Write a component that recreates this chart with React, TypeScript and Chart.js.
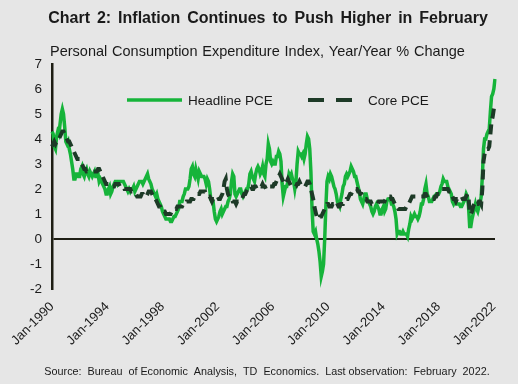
import React, { useEffect, useRef } from "react";
import { Chart, registerables } from "chart.js";

Chart.register(...registerables);

const START_YEAR = 1990;
const MONTHS = ["Jan", "Feb", "Mar", "Apr", "May", "Jun", "Jul", "Aug", "Sep", "Oct", "Nov", "Dec"];
const TICK_LABELS = ["Jan-1990", "Jan-1994", "Jan-1998", "Jan-2002", "Jan-2006", "Jan-2010", "Jan-2014", "Jan-2018", "Jan-2022"];

// Headline PCE, y/y % change, monthly Jan-1990 .. Feb-2022
const HEADLINE_1990S = [
  4.3, 4.2, 3.7, 3.6, 4.1, 4.3, 4.2, 4.6, 5.0, 5.2, 5.0, 4.5,
  3.9, 3.8, 3.9, 3.6, 3.4, 3.1, 2.8, 2.4, 2.4, 2.6, 2.6, 2.5,
  2.5, 2.8, 2.9, 2.6, 2.5, 2.7, 2.8, 2.6, 2.5, 2.7, 2.6, 2.5,
  2.6, 2.7, 2.5, 2.5, 2.6, 2.3, 2.4, 2.3, 2.2, 2.1, 2.0, 1.8,
  1.8, 2.0, 2.1, 1.8, 1.9, 2.1, 2.2, 2.3, 2.3, 2.2, 2.3, 2.3,
  2.3, 2.3, 2.3, 2.2, 2.1, 2.0, 1.9, 2.0, 1.9, 2.0, 2.0, 2.1,
  1.9, 2.0, 2.1, 2.2, 2.3, 2.3, 2.3, 2.2, 2.3, 2.4, 2.5, 2.6,
  2.4, 2.3, 2.2, 2.0, 1.9, 1.8, 1.7, 1.8, 1.6, 1.5, 1.4, 1.3,
  1.1, 1.0, 0.9, 0.8, 0.8, 0.8, 0.8, 0.7, 0.7, 0.8, 0.9, 0.9,
  1.0, 1.1, 1.2, 1.5, 1.5, 1.5, 1.7, 1.8, 2.0, 2.0, 2.0, 2.1,
];
const HEADLINE_2000S = [
  2.4, 2.8, 2.9, 2.6, 2.5, 2.8, 2.6, 2.4, 2.7, 2.6, 2.5, 2.5,
  2.5, 2.4, 2.2, 2.4, 2.3, 2.0, 1.6, 1.5, 1.5, 1.1, 0.8, 0.7,
  0.8, 0.9, 1.1, 1.2, 1.0, 1.1, 1.2, 1.3, 1.3, 1.5, 1.6, 1.8,
  2.3, 2.6, 2.5, 1.8, 1.7, 1.8, 1.9, 2.0, 2.0, 1.8, 1.7, 1.8,
  1.9, 2.0, 2.0, 2.2, 2.6, 2.7, 2.5, 2.4, 2.3, 2.6, 2.8, 2.9,
  2.8, 2.6, 2.7, 2.9, 2.6, 2.5, 3.0, 3.2, 3.8, 3.6, 3.1, 3.0,
  3.1, 3.0, 3.0, 3.3, 3.3, 3.5, 3.4, 3.1, 2.2, 1.7, 1.9, 2.1,
  2.1, 2.3, 2.6, 2.5, 2.6, 2.4, 2.3, 2.0, 2.3, 3.0, 3.5, 3.4,
  3.4, 3.3, 3.4, 3.2, 3.4, 3.8, 4.1, 4.0, 3.6, 2.7, 1.2, 0.3,
  0.2, 0.3, 0.0, -0.2, -0.5, -0.9, -1.5, -1.3, -1.0, 0.0, 1.3, 2.3,
];
const HEADLINE_2010S = [
  2.5, 2.4, 2.6, 2.5, 2.3, 2.1, 2.0, 1.8, 1.5, 1.4, 1.3, 1.6,
  1.8, 2.1, 2.2, 2.5, 2.6, 2.5, 2.6, 2.7, 2.9, 2.8, 2.7, 2.5,
  2.5, 2.3, 2.1, 1.9, 1.6, 1.5, 1.4, 1.6, 1.8, 1.8, 1.6, 1.5,
  1.4, 1.3, 1.1, 1.0, 1.1, 1.3, 1.4, 1.3, 1.2, 1.0, 1.0, 1.2,
  1.3, 1.1, 1.2, 1.5, 1.6, 1.6, 1.6, 1.4, 1.4, 1.3, 1.1, 0.8,
  0.2, 0.3, 0.3, 0.2, 0.2, 0.3, 0.2, 0.2, 0.2, 0.1, 0.4, 0.6,
  0.9, 0.8, 0.9, 1.0, 0.9, 0.9, 0.8, 0.9, 1.1, 1.4, 1.4, 1.6,
  2.0, 2.2, 1.8, 1.7, 1.5, 1.5, 1.5, 1.6, 1.7, 1.7, 1.8, 1.8,
  1.8, 1.9, 2.1, 2.2, 2.4, 2.3, 2.3, 2.3, 2.1, 2.0, 1.9, 1.8,
  1.5, 1.4, 1.5, 1.5, 1.4, 1.4, 1.4, 1.3, 1.3, 1.4, 1.5, 1.6,
];
const HEADLINE_2020S = [
  1.8, 1.7, 1.3, 0.5, 0.5, 0.8, 1.0, 1.2, 1.4, 1.2, 1.1, 1.3,
  1.4, 1.7, 2.5, 3.6, 4.0, 4.0, 4.2, 4.3, 4.4, 5.1, 5.7, 5.8,
  6.0, 6.4,
];

// Core PCE, y/y % change, monthly Jan-1990 .. Feb-2022
const CORE_1990S = [
  3.7, 3.8, 3.9, 3.8, 3.9, 4.0, 4.0, 4.1, 4.2, 4.3, 4.3, 4.2,
  4.1, 4.0, 3.9, 3.9, 3.8, 3.7, 3.6, 3.5, 3.4, 3.3, 3.2, 3.2,
  3.2, 3.1, 3.0, 2.9, 2.8, 2.8, 2.7, 2.7, 2.7, 2.7, 2.7, 2.7,
  2.7, 2.7, 2.7, 2.7, 2.8, 2.8, 2.7, 2.6, 2.5, 2.4, 2.3, 2.2,
  2.2, 2.2, 2.2, 2.2, 2.1, 2.1, 2.1, 2.2, 2.2, 2.2, 2.2, 2.1,
  2.1, 2.1, 2.1, 2.0, 2.0, 2.0, 2.0, 2.0, 2.0, 1.9, 1.9, 1.9,
  1.8, 1.8, 1.7, 1.7, 1.7, 1.7, 1.8, 1.8, 1.7, 1.7, 1.7, 1.8,
  1.9, 1.9, 1.9, 1.8, 1.7, 1.6, 1.6, 1.5, 1.4, 1.3, 1.3, 1.2,
  1.2, 1.1, 1.1, 1.0, 1.0, 1.0, 1.0, 1.0, 1.1, 1.1, 1.2, 1.2,
  1.2, 1.3, 1.3, 1.3, 1.3, 1.3, 1.4, 1.4, 1.4, 1.5, 1.5, 1.5,
];
const CORE_2000S = [
  1.5, 1.6, 1.6, 1.6, 1.7, 1.7, 1.8, 1.8, 1.8, 1.9, 1.9, 1.9,
  1.9, 1.9, 1.8, 1.8, 1.7, 1.7, 1.6, 1.5, 1.6, 1.6, 1.6, 1.7,
  1.7, 1.6, 1.6, 1.7, 1.8, 2.0, 2.3, 2.4, 2.0, 1.8, 1.7, 1.6,
  1.6, 1.5, 1.5, 1.5, 1.4, 1.5, 1.5, 1.5, 1.6, 1.6, 1.7, 1.8,
  1.8, 1.9, 2.0, 2.0, 2.1, 2.1, 2.0, 2.0, 2.1, 2.1, 2.0, 2.0,
  2.1, 2.1, 2.1, 2.2, 2.1, 2.1, 2.0, 2.1, 2.1, 2.1, 2.1, 2.1,
  2.1, 2.2, 2.2, 2.3, 2.4, 2.5, 2.6, 2.5, 2.4, 2.3, 2.2, 2.2,
  2.3, 2.4, 2.3, 2.2, 2.1, 2.1, 2.1, 2.1, 2.1, 2.2, 2.2, 2.3,
  2.2, 2.1, 2.1, 2.1, 2.1, 2.2, 2.3, 2.3, 2.2, 2.0, 1.8, 1.6,
  1.3, 1.1, 0.9, 0.8, 0.8, 0.9, 0.9, 1.0, 1.1, 1.2, 1.3, 1.4,
];
const CORE_2010S = [
  1.4, 1.3, 1.3, 1.3, 1.4, 1.4, 1.5, 1.5, 1.4, 1.3, 1.3, 1.4,
  1.4, 1.4, 1.5, 1.5, 1.6, 1.6, 1.7, 1.8, 1.8, 1.9, 1.9, 2.0,
  2.0, 2.0, 1.9, 1.9, 1.8, 1.8, 1.7, 1.7, 1.6, 1.6, 1.5, 1.5,
  1.5, 1.5, 1.4, 1.4, 1.4, 1.4, 1.4, 1.4, 1.5, 1.5, 1.5, 1.5,
  1.5, 1.5, 1.6, 1.6, 1.7, 1.7, 1.7, 1.6, 1.6, 1.5, 1.4, 1.3,
  1.3, 1.2, 1.2, 1.2, 1.2, 1.2, 1.2, 1.2, 1.3, 1.3, 1.4, 1.5,
  1.6, 1.7, 1.7, 1.7, 1.7, 1.7, 1.7, 1.7, 1.7, 1.7, 1.7, 1.7,
  1.8, 1.8, 1.7, 1.6, 1.6, 1.6, 1.6, 1.6, 1.6, 1.7, 1.7, 1.8,
  1.8, 1.8, 1.9, 2.0, 2.0, 2.0, 2.0, 2.0, 2.0, 1.9, 1.9, 1.9,
  1.7, 1.6, 1.6, 1.5, 1.6, 1.6, 1.7, 1.7, 1.7, 1.6, 1.6, 1.6,
];
const CORE_2020S = [
  1.7, 1.8, 1.7, 1.0, 1.0, 1.1, 1.3, 1.4, 1.5, 1.4, 1.4, 1.5,
  1.5, 1.4, 2.0, 3.1, 3.4, 3.6, 3.6, 3.6, 3.7, 4.2, 4.7, 4.9,
  5.2, 5.4,
];

const HEADLINE = [...HEADLINE_1990S, ...HEADLINE_2000S, ...HEADLINE_2010S, ...HEADLINE_2020S];
const CORE = [...CORE_1990S, ...CORE_2000S, ...CORE_2010S, ...CORE_2020S];

const CATEGORIES: string[] = HEADLINE.map((_, i) => `${MONTHS[i % 12]}-${START_YEAR + Math.floor(i / 12)}`);

const TITLE = "Chart 2: Inflation Continues to Push Higher in February";
const SUBTITLE = "Personal Consumption Expenditure Index, Year/Year % Change";
const SOURCE = "Source:  Bureau  of Economic  Analysis,  TD  Economics.  Last observation:  February  2022.";

const GREEN = "#16b43a";
const DARK = "#1d3a27";
const BG = "#e6e6e6";
const TEXT = "#1a1a1a";
const FONT = "'Liberation Sans', Arial, sans-serif";

const decorPlugin = {
  id: "decor",
  beforeDraw(chart: any) {
    const { ctx, width, height } = chart;
    ctx.save();
    ctx.fillStyle = BG;
    ctx.fillRect(0, 0, width, height);
    ctx.restore();
  },
  afterDraw(chart: any) {
    const { ctx } = chart;
    ctx.save();
    ctx.fillStyle = TEXT;
    ctx.textBaseline = "middle";
    ctx.textAlign = "center";
    ctx.font = `bold 16px ${FONT}`;
    (ctx as any).wordSpacing = "2.5px";
    ctx.fillText(TITLE, 268, 19);
    ctx.textAlign = "left";
    ctx.font = `14.5px ${FONT}`;
    (ctx as any).wordSpacing = "0.8px";
    ctx.fillText(SUBTITLE, 50, 52);
    (ctx as any).wordSpacing = "0px";
    ctx.textAlign = "center";
    ctx.font = `10.8px ${FONT}`;
    ctx.fillText(SOURCE, 267, 372);

    // legend
    ctx.lineWidth = 3.5;
    ctx.strokeStyle = GREEN;
    ctx.beginPath();
    ctx.moveTo(127, 100);
    ctx.lineTo(182, 100);
    ctx.stroke();
    ctx.strokeStyle = DARK;
    ctx.lineWidth = 4;
    ctx.setLineDash([16, 12]);
    ctx.beginPath();
    ctx.moveTo(308, 100);
    ctx.lineTo(354, 100);
    ctx.stroke();
    ctx.setLineDash([]);
    ctx.fillStyle = TEXT;
    ctx.textAlign = "left";
    ctx.font = `13.5px ${FONT}`;
    ctx.fillText("Headline PCE", 188, 101);
    ctx.fillText("Core PCE", 368, 101);
    ctx.restore();
  },
};

export default function App() {
  const ref = useRef<HTMLCanvasElement | null>(null);

  useEffect(() => {
    document.body.style.margin = "0";
    document.body.style.background = BG;
    const canvas = ref.current;
    if (!canvas) return;
    const chart = new Chart(canvas, {
      type: "line",
      data: {
        labels: CATEGORIES,
        datasets: [
          {
            label: "Core PCE",
            data: CORE,
            borderColor: DARK,
            borderWidth: 4,
            borderDash: [10, 6],
            pointRadius: 0,
            tension: 0,
            fill: false,
            order: 0,
          },
          {
            label: "Headline PCE",
            data: HEADLINE,
            borderColor: GREEN,
            borderWidth: 3.5,
            pointRadius: 0,
            tension: 0,
            fill: false,
            order: 1,
          },
        ],
      },
      options: {
        responsive: false,
        animation: false,
        events: [],
        layout: { padding: { top: 64, right: 23, bottom: 30, left: 0 } },
        plugins: {
          legend: { display: false },
          tooltip: { enabled: false },
          title: { display: false },
        },
        scales: {
          x: {
            type: "category",
            offset: false,
            grid: { display: false, drawTicks: false },
            border: { display: false },
            ticks: {
              autoSkip: false,
              maxRotation: 45,
              minRotation: 45,
              padding: 10,
              color: TEXT,
              font: { family: FONT, size: 13 },
              callback: (_v: any, i: number) => (TICK_LABELS.includes(CATEGORIES[i]) ? CATEGORIES[i] : null),
            },
            afterFit: (s: any) => {
              s.height = 65;
            },
          },
          y: {
            min: -2,
            max: 7,
            ticks: {
              stepSize: 1,
              padding: 10,
              color: TEXT,
              font: { family: FONT, size: 13.5 },
            },
            grid: {
              drawTicks: false,
              lineWidth: 2,
              color: (c: any) => (c.tick && c.tick.value === 0 ? "#1e1e14" : "rgba(0,0,0,0)"),
            },
            border: { display: true, color: "#1e1e14", width: 2.5 },
            afterFit: (s: any) => {
              s.width = 52;
            },
          },
        },
      },
      plugins: [decorPlugin],
    });
    return () => chart.destroy();
  }, []);

  return (
    <div style={{ width: 518, height: 384, background: BG }}>
      <canvas ref={ref} width={518} height={384} style={{ display: "block", width: 518, height: 384 }} />
    </div>
  );
}
